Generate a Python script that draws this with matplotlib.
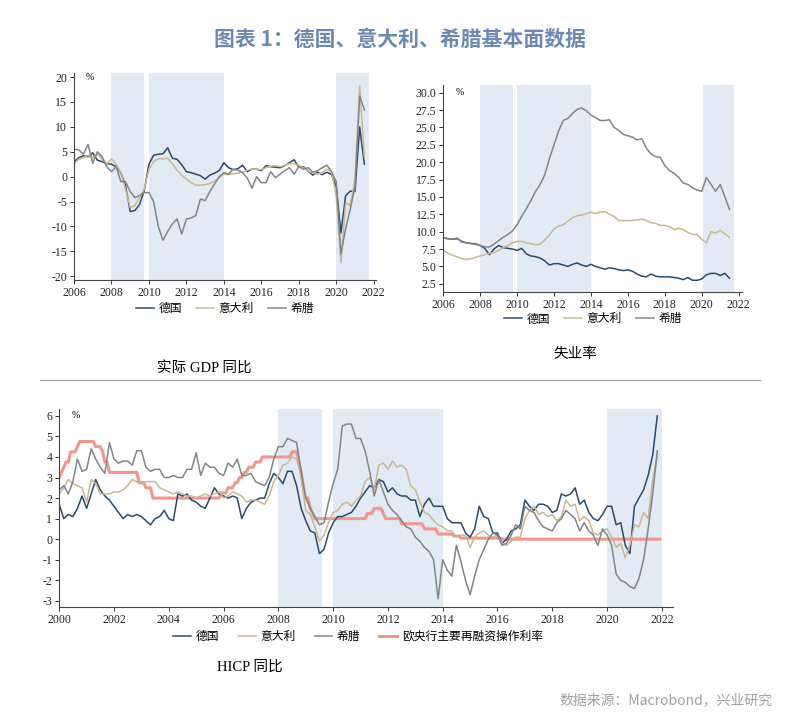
import matplotlib
matplotlib.use("Agg")
import matplotlib.pyplot as plt
from matplotlib.lines import Line2D
import numpy as np
import pandas as pd

plt.rcParams["font.family"] = ["Liberation Serif", "Noto Sans CJK SC"]
plt.rcParams["axes.unicode_minus"] = False

CJK = ["Noto Sans CJK SC", "DejaVu Sans"]
C_DE, C_IT, C_GR, C_ECB = "#2b4a6b", "#c9b88f", "#80858a", "#f3958d"
SHADE = "#e2ebf5"
NAMES = ["德国", "意大利", "希腊"]

# ---- real GDP yoy, quarterly 2006Q1..2021Q3 ----
gdp_de = [3.0, 3.8, 4.2, 4.0, 4.8, 3.3, 3.0, 2.6, 2.5, 2.0, 0.8, -1.8,
          -7.0, -6.8, -5.6, -2.8, 2.5, 4.3, 4.5, 4.6, 5.8, 3.7, 3.5, 2.4,
          1.0, 0.8, 0.5, 0.2, -0.5, 0.3, 0.7, 1.2, 2.8, 1.8, 1.4, 1.6,
          2.3, 1.0, 1.5, 1.5, 1.2, 2.2, 2.0, 1.9, 1.8, 2.2, 2.8, 3.4,
          1.9, 2.0, 1.1, 0.3, 0.9, 0.4, 0.9, 0.4, -2.0, -11.3, -3.8, -2.9,
          -3.0, 10.0, 2.5]
gdp_it = [2.6, 3.5, 3.8, 4.3, 3.8, 4.5, 3.5, 2.5, 3.6, 2.5, 0.8, -2.5,
          -6.2, -5.8, -4.2, -2.5, 1.5, 3.0, 3.6, 3.6, 3.7, 2.6, 1.3, 0.3,
          -0.5, -1.2, -1.7, -1.7, -1.6, -1.4, -0.9, -0.2, 0.5, 0.4, 0.6, 0.7,
          0.9, 1.3, 1.5, 1.5, 1.4, 1.8, 2.1, 2.2, 2.0, 2.3, 2.6, 2.6,
          2.3, 1.8, 1.1, 0.7, 0.5, 0.8, 1.5, 1.0, -4.0, -17.3, -5.2, -5.8,
          -0.5, 18.3, 4.0]
gdp_gr = [5.5, 5.4, 4.5, 6.5, 2.7, 5.0, 4.0, 2.0, 1.0, 2.0, -1.0, -1.0,
          -3.0, -4.2, -3.8, -3.2, -3.2, -5.0, -10.0, -12.8, -11.0, -9.5, -8.5, -11.5,
          -8.5, -8.3, -7.8, -4.5, -4.8, -3.0, -1.5, 0.0, 0.8, 0.5, 1.5, 1.3,
          0.8, -0.3, -2.3, 0.0, -1.2, -1.2, 1.0, -0.2, 0.5, 1.2, 1.8, 0.5,
          2.0, 1.5, 1.8, 0.9, 1.2, 1.8, 2.3, 1.0, -1.0, -15.5, -10.5, -6.5,
          -2.0, 16.2, 13.4]

# ---- unemployment rate, quarterly 2006Q1..2021Q3 ----
une_de = [9.1, 9.0, 8.9, 9.0, 8.6, 8.4, 8.3, 8.2, 8.0, 7.6, 6.7, 7.5,
          8.0, 7.7, 7.6, 7.5, 7.3, 7.6, 6.8, 6.5, 6.4, 6.2, 5.8, 5.2,
          5.4, 5.4, 5.2, 5.0, 5.3, 5.5, 5.2, 5.0, 5.3, 5.0, 4.8, 4.6,
          4.8, 4.7, 4.5, 4.4, 4.5, 4.3, 3.9, 3.6, 3.5, 3.9, 3.6, 3.5,
          3.5, 3.5, 3.4, 3.3, 3.1, 3.4, 3.0, 3.0, 3.2, 3.8, 4.0, 4.0,
          3.7, 4.0, 3.3]
une_it = [7.3, 6.9, 6.6, 6.4, 6.1, 6.0, 6.1, 6.3, 6.5, 6.7, 6.9, 7.0,
          7.3, 7.7, 8.0, 8.4, 8.6, 8.6, 8.4, 8.3, 8.1, 8.2, 8.8, 9.5,
          10.4, 10.8, 11.0, 11.5, 12.0, 12.3, 12.4, 12.6, 12.8, 12.6, 12.8, 12.9,
          12.5, 12.2, 11.6, 11.6, 11.6, 11.6, 11.7, 11.8, 11.6, 11.3, 11.2, 10.9,
          10.9, 10.7, 10.3, 10.5, 10.3, 9.9, 9.6, 9.6, 8.9, 8.4, 10.0, 9.8,
          10.2, 9.7, 9.2]
une_gr = [9.1, 9.0, 8.9, 9.1, 8.5, 8.4, 8.3, 8.3, 8.0, 7.8, 7.8, 8.2,
          8.7, 9.2, 9.6, 10.1, 11.0, 12.2, 13.3, 14.5, 15.8, 16.8, 18.2, 20.5,
          22.5, 24.5, 26.0, 26.3, 27.0, 27.6, 27.8, 27.4, 26.8, 26.4, 26.0, 26.0,
          26.1, 25.0, 24.6, 24.0, 23.8, 23.6, 23.2, 23.4, 22.0, 21.2, 20.8, 20.7,
          19.5, 18.8, 18.4, 17.8, 17.0, 16.8, 16.3, 16.0, 15.8, 17.8, 16.8, 15.8,
          16.8, 15.0, 13.2]

# ---- HICP yoy, every two months (Jan, Mar, May, Jul, Sep, Nov) 2000..2021 ----
hicp_de = [1.7, 1.0, 1.2, 1.1, 1.5, 2.1, 1.5, 2.2, 2.9, 2.4, 2.1, 1.9,
           1.6, 1.3, 1.0, 1.2, 1.1, 1.2, 1.1, 0.9, 0.7, 1.0, 1.1, 1.4,
           1.0, 0.9, 2.2, 2.1, 2.2, 1.9, 1.8, 1.6, 1.5, 2.0, 2.5, 2.2,
           2.1, 2.0, 2.1, 2.0, 1.0, 1.5, 1.8, 1.9, 2.0, 2.0, 2.7, 3.2,
           3.0, 2.7, 3.3, 3.3, 2.6, 1.5, 0.9, 0.4, 0.3, -0.7, -0.5, 0.3,
           0.8, 1.1, 1.1, 1.2, 1.3, 1.6, 2.0, 2.3, 2.6, 2.5, 2.9, 2.8,
           2.3, 2.5, 2.2, 2.1, 2.1, 1.9, 1.9, 1.1, 1.7, 2.0, 1.6, 1.6,
           1.6, 1.0, 0.8, 0.8, 0.8, 0.3, 0.1, 0.5, 1.6, 1.1, 1.0, 0.3,
           0.3, -0.2, 0.0, 0.4, 0.5, 0.7, 1.9, 1.6, 1.4, 1.7, 1.7, 1.6,
           1.3, 1.4, 2.2, 2.1, 2.2, 2.5, 1.7, 1.9, 1.3, 1.0, 0.9, 1.2,
           1.6, 1.6, 0.7, 0.8, -0.3, -0.7, 1.6, 2.0, 2.4, 3.1, 4.1, 6.0]
hicp_it = [2.2, 2.5, 2.9, 2.7, 2.6, 2.5, 1.8, 2.9, 2.7, 2.2, 2.2, 2.2,
           2.3, 2.3, 2.4, 2.6, 2.9, 2.8, 2.7, 2.8, 2.8, 2.8, 2.5, 2.4,
           2.3, 2.2, 2.3, 2.2, 2.1, 2.1, 2.0, 2.1, 2.2, 2.1, 2.2, 2.3,
           2.0, 2.1, 2.3, 2.2, 2.1, 1.8, 1.9, 1.9, 1.8, 1.7, 2.1, 2.8,
           3.1, 3.6, 3.7, 4.0, 3.9, 3.0, 1.4, 1.2, 0.6, -0.1, 0.2, 0.8,
           1.3, 1.4, 1.7, 1.8, 1.6, 1.9, 2.1, 2.8, 3.0, 2.4, 3.6, 3.7,
           3.4, 3.8, 3.5, 3.6, 3.4, 2.6, 2.4, 1.8, 1.3, 1.2, 0.9, 0.7,
           0.6, 0.4, 0.4, 0.1, 0.2, 0.2, -0.4, 0.1, 0.3, 0.4, 0.2, 0.1,
           0.2, -0.2, -0.3, -0.1, 0.1, 0.1, 1.0, 1.4, 1.6, 1.2, 1.3, 1.1,
           1.2, 0.9, 1.1, 1.9, 1.6, 1.7, 0.9, 1.1, 0.9, 0.3, 0.2, 0.4,
           0.5, 0.1, -0.4, -0.2, -0.9, -0.3, 0.7, 0.6, 1.3, 1.0, 2.9, 4.0]
hicp_gr = [2.4, 2.6, 2.2, 2.8, 3.9, 3.3, 3.4, 4.4, 3.9, 3.5, 3.2, 4.7,
           3.9, 3.7, 3.8, 3.8, 3.6, 4.3, 4.3, 3.5, 3.3, 3.4, 3.4, 3.0,
           3.0, 3.1, 3.0, 3.0, 3.4, 3.4, 4.2, 3.1, 3.7, 3.5, 3.5, 3.2,
           3.1, 3.7, 3.5, 3.9, 3.1, 3.1, 3.2, 2.8, 2.7, 2.6, 3.0, 3.9,
           4.5, 4.5, 4.9, 4.8, 4.7, 3.3, 2.0, 1.5, 1.1, 0.7, 0.8, 1.8,
           2.7, 3.4, 5.5, 5.6, 5.6, 4.9, 4.9, 4.3, 3.3, 2.1, 2.9, 2.3,
           1.7, 1.4, 1.2, 0.9, 0.6, 0.5, 0.1, -0.1, -0.4, -0.6, -1.0, -2.9,
           -1.0, -1.5, -1.8, -0.3, -1.1, -2.0, -2.7, -1.8, -1.0, -0.5, 0.0, 0.3,
           0.2, -0.3, -0.2, 0.2, 0.7, 0.5, 1.6, 1.4, 1.3, 0.9, 0.6, 0.5,
           0.4, 0.8, 1.0, 1.4, 1.2, 1.0, 0.4, 0.8, 0.4, 0.2, -0.3, 0.5,
           0.2, -0.3, -1.7, -2.0, -2.1, -2.3, -2.4, -1.9, -1.0, 0.5, 2.2, 4.3]

# ---- ECB main refinancing rate: change months and new levels ----
ecb_dates = ["2000-01", "2000-02", "2000-03", "2000-04", "2000-06", "2000-09", "2000-10",
             "2001-05", "2001-08", "2001-09", "2001-11", "2002-12", "2003-03", "2003-06",
             "2005-12", "2006-03", "2006-06", "2006-08", "2006-10", "2006-12", "2007-03",
             "2007-06", "2008-07", "2008-10", "2008-11", "2008-12", "2009-01", "2009-03",
             "2009-04", "2009-05", "2011-04", "2011-07", "2011-11", "2011-12", "2012-07",
             "2013-05", "2013-11", "2014-06", "2014-09", "2016-03", "2021-12"]
ecb_rate = [3.00, 3.25, 3.50, 3.75, 4.25, 4.50, 4.75,
            4.50, 4.25, 3.75, 3.25, 2.75, 2.50, 2.00,
            2.25, 2.50, 2.75, 3.00, 3.25, 3.50, 3.75,
            4.00, 4.25, 3.75, 3.25, 2.50, 2.00, 1.50,
            1.25, 1.00, 1.25, 1.50, 1.25, 1.00, 0.75,
            0.50, 0.25, 0.15, 0.05, 0.00, 0.00]

# shaded periods (crisis / recession windows)
shade_gdp = [(2008.0, 2009.75), (2010.0, 2014.0), (2020.0, 2021.75)]
shade_une = [(2008.0, 2009.78), (2010.0, 2014.0), (2020.05, 2021.75)]
shade_hicp = [(2008.0, 2009.6), (2010.0, 2014.0), (2020.0, 2022.0)]


def style_axes(ax):
    ax.spines[["top", "right"]].set_visible(False)
    for s in ("left", "bottom"):
        ax.spines[s].set_color("#444444")
        ax.spines[s].set_linewidth(0.8)
    ax.tick_params(direction="out", length=3, width=0.7, pad=2, colors="#333333",
                   labelsize=8.5, labelcolor="#222222")


def add_legend(ax, handles, labels, x, y, spacing=1.2):
    ax.legend(handles, labels, loc="upper center", bbox_to_anchor=(x, y), ncol=len(labels),
              frameon=False, prop={"family": CJK, "size": 8.5}, handlelength=1.5,
              handletextpad=0.4, columnspacing=spacing, borderpad=0, borderaxespad=0)


def main():
    fig = plt.figure(figsize=(8.0, 7.24), dpi=100)
    fig.text(0.5, 0.945, "图表 1：德国、意大利、希腊基本面数据", ha="center", va="center",
             fontsize=15, fontweight="bold", color="#6b89b3", family=CJK)

    # ---- GDP ----
    ax1 = fig.add_axes([0.0925, 0.613, 0.377, 0.286])
    x = 2006 + np.arange(len(gdp_de)) / 4
    for a, b in shade_gdp:
        ax1.axvspan(a, b, color=SHADE, lw=0, zorder=0)
    h1 = []
    for vals, c in ((gdp_de, C_DE), (gdp_it, C_IT), (gdp_gr, C_GR)):
        h1 += ax1.plot(x, vals, color=c, lw=1.1)
    ax1.set_xlim(2006, 2022.1)
    ax1.set_ylim(-20.8, 20.8)
    ax1.set_xticks(range(2006, 2023, 2))
    ax1.set_yticks(range(-20, 21, 5))
    ax1.text(0.04, 20, "%", fontsize=7, va="center", transform=ax1.get_yaxis_transform())
    style_axes(ax1)
    add_legend(ax1, h1, NAMES, 0.5, -0.105)

    # ---- unemployment ----
    ax2 = fig.add_axes([0.554, 0.597, 0.374, 0.286])
    x = 2006 + np.arange(len(une_de)) / 4
    for a, b in shade_une:
        ax2.axvspan(a, b, color=SHADE, lw=0, zorder=0)
    h2 = []
    for vals, c in ((une_de, C_DE), (une_it, C_IT), (une_gr, C_GR)):
        h2 += ax2.plot(x, vals, color=c, lw=1.1)
    ax2.set_xlim(2006, 2022.2)
    ax2.set_ylim(1.35, 31.15)
    ax2.set_xticks(range(2006, 2023, 2))
    ax2.set_yticks(np.arange(2.5, 30.1, 2.5))
    ax2.set_yticklabels([f"{v:.1f}" for v in np.arange(2.5, 30.1, 2.5)])
    ax2.text(0.04, 30, "%", fontsize=7, va="center", transform=ax2.get_yaxis_transform())
    style_axes(ax2)
    add_legend(ax2, h2, NAMES, 0.5, -0.1)

    # ---- HICP ----
    ax3 = fig.add_axes([0.074, 0.1616, 0.767, 0.2734])
    x = 2000 + np.arange(len(hicp_de)) / 6
    for a, b in shade_hicp:
        ax3.axvspan(a, b, color=SHADE, lw=0, zorder=0)
    # ECB rate: month by month level, carried forward from each change
    ecb = pd.Series(ecb_rate, index=pd.PeriodIndex(ecb_dates, freq="M"))
    ecb = ecb.reindex(pd.period_range(ecb.index[0], ecb.index[-1], freq="M")).ffill()
    ex = ecb.index.year + (ecb.index.month - 1) / 12
    h3 = []
    for vals, c in ((hicp_de, C_DE), (hicp_it, C_IT), (hicp_gr, C_GR)):
        h3 += ax3.plot(x, vals, color=c, lw=1.1)
    h3 += ax3.plot(ex, ecb.values, color=C_ECB, lw=2.2, zorder=1.5)
    ax3.set_xlim(2000, 2022.4)
    ax3.set_ylim(-3.3, 6.33)
    ax3.set_xticks(range(2000, 2023, 2))
    ax3.set_yticks(range(-3, 7))
    ax3.text(0.02, 6, "%", fontsize=7, va="center", transform=ax3.get_yaxis_transform())
    style_axes(ax3)
    add_legend(ax3, h3, NAMES + ["欧央行主要再融资操作利率"], 0.487, -0.115, spacing=1.6)

    # ---- captions / separator ----
    fig.text(0.256, 0.490, "实际 GDP 同比", ha="center", va="center", fontsize=10.5)
    fig.text(0.719, 0.510, "失业率", ha="center", va="center", fontsize=10.5)
    fig.text(0.3125, 0.079, "HICP 同比", ha="center", va="center", fontsize=10.5)
    fig.add_artist(Line2D([0.05, 0.95], [0.475, 0.475], transform=fig.transFigure,
                          color="#9a9a9a", lw=0.8))
    fig.text(0.966, 0.033, "数据来源：Macrobond，兴业研究", ha="right", va="center",
             fontsize=10, color="#a0a0a0", family=CJK)

    fig.savefig("out.png", dpi=100)


if __name__ == "__main__":
    main()
